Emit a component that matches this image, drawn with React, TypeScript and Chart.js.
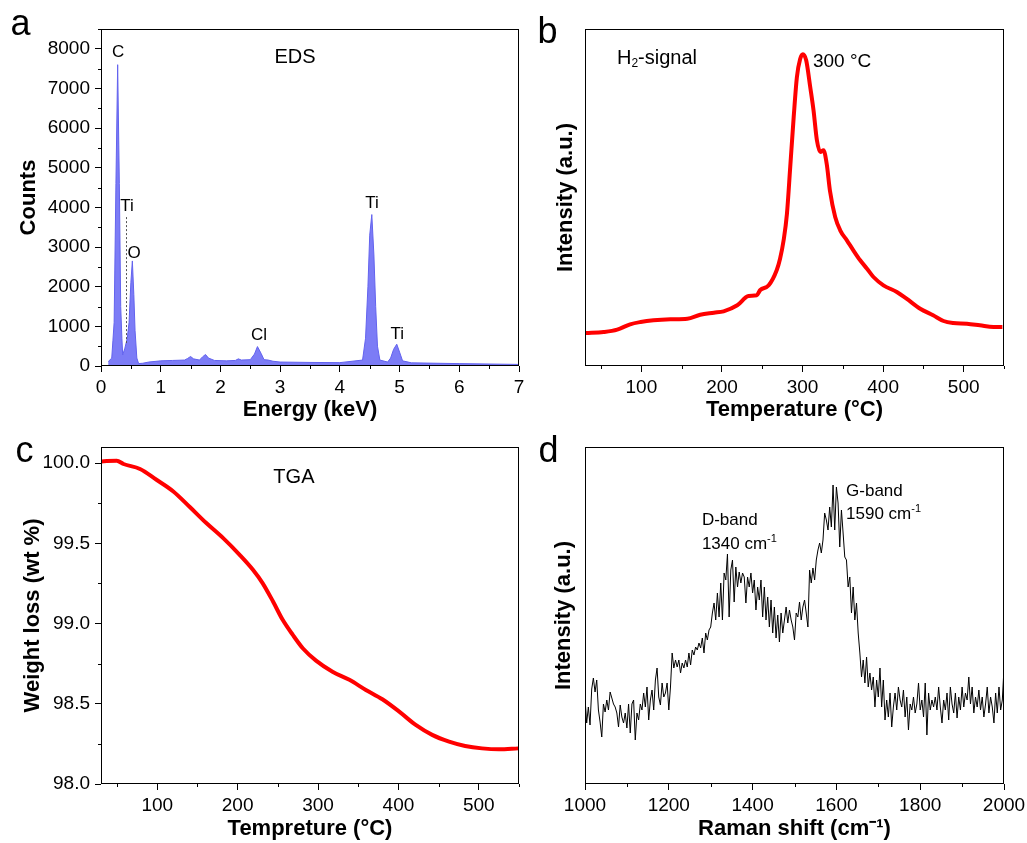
import React, { useEffect, useRef } from "react";
import { Chart, registerables } from "chart.js";

Chart.register(...registerables);

const FONT = "'Liberation Sans', Arial, Helvetica, sans-serif";

// ---------------- Panel a: EDS ----------------
const edsEnergy = [0.12, 0.18, 0.20, 0.22, 0.25, 0.279, 0.307, 0.33, 0.35, 0.363, 0.40, 0.44, 0.47, 0.50, 0.525, 0.55, 0.57, 0.60, 0.63, 0.70, 0.80, 1.00, 1.20, 1.40, 1.45, 1.50, 1.55, 1.65, 1.70, 1.75, 1.80, 1.90, 2.10, 2.25, 2.30, 2.35, 2.50, 2.57, 2.62, 2.68, 2.73, 2.80, 2.88, 3.00, 3.50, 4.00, 4.38, 4.43, 4.47, 4.50, 4.535, 4.57, 4.60, 4.63, 4.67, 4.80, 4.85, 4.90, 4.953, 5.00, 5.05, 5.20, 6.00, 7.00];
const edsCounts = [110, 200, 650, 1100, 4600, 7600, 4600, 1500, 700, 280, 450, 700, 1100, 2100, 2650, 1800, 900, 200, 60, 70, 100, 130, 140, 150, 190, 240, 180, 150, 230, 290, 200, 140, 130, 140, 180, 150, 160, 300, 490, 320, 160, 150, 120, 100, 90, 85, 150, 700, 2000, 3300, 3820, 2800, 1500, 500, 150, 100, 200, 420, 550, 350, 130, 80, 60, 40];
const edsEnergyTicks = [0, 1, 2, 3, 4, 5, 6, 7];
const edsCountTicks = [0, 1000, 2000, 3000, 4000, 5000, 6000, 7000, 8000];

// ---------------- Panel b: H2 signal ----------------
const h2Temp = [31, 53, 70, 86, 99, 115, 136, 157, 173, 190, 202, 219, 233, 243, 247.5, 258, 268, 272, 276.5, 280.6, 284.7, 289, 293, 297, 300.4, 304.5, 309.5, 313.6, 317.8, 322, 326, 330, 334, 340.5, 346.7, 355, 363, 371.5, 380, 388, 400.4, 417, 429, 446, 462, 475, 487, 504, 520, 537, 548];
const h2Signal = [33, 34, 36.3, 41.7, 44, 45.7, 46.7, 47.3, 51.3, 53.3, 54.7, 60.7, 70, 70.7, 76, 80.7, 96, 107, 125.7, 152, 199, 249, 289, 307, 311.7, 305.7, 279, 255.7, 225.7, 214, 215.7, 202, 175.3, 149, 135.7, 125.7, 115.7, 105.7, 97.3, 89, 80.7, 74, 67.3, 57.3, 50.7, 45, 43, 42.3, 40.7, 39, 39];
const tempTicks = [100, 200, 300, 400, 500];

// ---------------- Panel c: TGA ----------------
const tgaTemp = [31, 49.6, 58, 78.5, 99, 120, 140.5, 161, 182, 202.5, 219, 231, 244, 256, 268.6, 281, 297.5, 318, 339, 359.5, 380, 401, 421.5, 442, 463, 483, 504, 525, 549];
const tgaWeight = [100.01, 100.015, 99.994, 99.963, 99.896, 99.823, 99.726, 99.626, 99.532, 99.428, 99.335, 99.252, 99.137, 99.023, 98.929, 98.846, 98.769, 98.7, 98.649, 98.586, 98.528, 98.451, 98.368, 98.306, 98.264, 98.237, 98.222, 98.216, 98.222];
const weightTicks = [98.0, 98.5, 99.0, 99.5, 100.0];

// ---------------- Panel d: Raman ----------------
const ramanShift = [
  1000, 1004, 1008, 1012, 1016, 1020, 1024, 1028, 1032, 1036,
  1040, 1044, 1048, 1052, 1056, 1060, 1064, 1068, 1072, 1076,
  1080, 1084, 1088, 1092, 1096, 1100, 1104, 1108, 1112, 1116,
  1120, 1124, 1128, 1132, 1136, 1140, 1144, 1148, 1152, 1156,
  1160, 1164, 1168, 1172, 1176, 1180, 1184, 1188, 1192, 1196,
  1200, 1204, 1208, 1212, 1216, 1220, 1224, 1228, 1232, 1236,
  1240, 1244, 1248, 1252, 1256, 1260, 1264, 1268, 1272, 1276,
  1280, 1284, 1288, 1292, 1296, 1300, 1304, 1308, 1312, 1316,
  1320, 1324, 1328, 1332, 1336, 1340, 1344, 1348, 1352, 1356,
  1360, 1364, 1368, 1372, 1376, 1380, 1384, 1388, 1392, 1396,
  1400, 1404, 1408, 1412, 1416, 1420, 1424, 1428, 1432, 1436,
  1440, 1444, 1448, 1452, 1456, 1460, 1464, 1468, 1472, 1476,
  1480, 1484, 1488, 1492, 1496, 1500, 1504, 1508, 1512, 1516,
  1520, 1524, 1528, 1532, 1536, 1540, 1544, 1548, 1552, 1556,
  1560, 1564, 1568, 1572, 1576, 1580, 1584, 1588, 1592, 1596,
  1600, 1604, 1608, 1612, 1616, 1620, 1624, 1628, 1632, 1636,
  1640, 1644, 1648, 1652, 1656, 1660, 1664, 1668, 1672, 1676,
  1680, 1684, 1688, 1692, 1696, 1700, 1704, 1708, 1712, 1716,
  1720, 1724, 1728, 1732, 1736, 1740, 1744, 1748, 1752, 1756,
  1760, 1764, 1768, 1772, 1776, 1780, 1784, 1788, 1792, 1796,
  1800, 1804, 1808, 1812, 1816, 1820, 1824, 1828, 1832, 1836,
  1840, 1844, 1848, 1852, 1856, 1860, 1864, 1868, 1872, 1876,
  1880, 1884, 1888, 1892, 1896, 1900, 1904, 1908, 1912, 1916,
  1920, 1924, 1928, 1932, 1936, 1940, 1944, 1948, 1952, 1956,
  1960, 1964, 1968, 1972, 1976, 1980, 1984, 1988, 1992, 1996,
  2000,
];
const ramanIntensity = [
  86, 61, 77, 59, 95, 106, 92, 104, 74, 62,
  47, 80, 72, 84, 74, 92, 86, 80, 77, 71,
  57, 79, 67, 61, 71, 56, 80, 51, 80, 84,
  44, 71, 64, 80, 74, 91, 77, 97, 64, 84,
  94, 74, 104, 116, 87, 79, 101, 87, 91, 101,
  74, 97, 131, 116, 124, 117, 124, 111, 121, 116,
  124, 117, 131, 119, 134, 129, 137, 134, 141, 136,
  146, 131, 151, 144, 154, 157, 171, 181, 164, 191,
  167, 201, 164, 211, 204, 230, 167, 214, 224, 182,
  217, 197, 212, 201, 211, 207, 181, 207, 197, 211,
  191, 204, 174, 197, 184, 204, 167, 197, 164, 187,
  157, 184, 151, 177, 146, 169, 142, 171, 151, 164,
  177, 161, 174, 164, 157, 144, 171, 167, 182, 164,
  177, 184, 171, 157, 214, 201, 216, 204, 224, 234,
  241, 231, 244, 271, 264, 254, 277, 257, 299, 254,
  297, 281, 237, 274, 251, 227, 224, 197, 207, 171,
  197, 164, 181, 151, 131, 107, 124, 101, 127, 97,
  111, 94, 107, 77, 104, 87, 116, 77, 104, 64,
  84, 67, 91, 57, 77, 91, 74, 97, 84, 77,
  94, 67, 87, 54, 80, 74, 87, 71, 80, 101,
  74, 84, 67, 101, 49, 91, 74, 84, 77, 87,
  74, 97, 77, 61, 84, 74, 91, 64, 97, 80,
  71, 91, 66, 87, 74, 97, 77, 91, 84, 107,
  80, 97, 71, 87, 77, 94, 74, 87, 67, 80,
  97, 71, 87, 77, 61, 91, 71, 97, 74, 84,
  116,
];
const ramanTicks = [1000, 1200, 1400, 1600, 1800, 2000];

// ---------------- helpers ----------------
type Box = { left: number; top: number; w: number; h: number };
type Area = { left: number; top: number; right: number; bottom: number };

const pts = (xs: number[], ys: number[]) => xs.map((x, i) => ({ x, y: ys[i] }));

const decorPlugin = {
  id: "decor",
  afterDraw(chart: any, _args: any, opts: any) {
    const ctx = chart.ctx;
    const a = chart.chartArea;
    const sx = chart.scales.x;
    const sy = chart.scales.y;
    ctx.save();
    ctx.strokeStyle = "#000";
    ctx.lineWidth = 1;
    // minor ticks (between the major ticks)
    const minor = (scale: any, step: number, horiz: boolean) => {
      const majors: number[] = (scale.ticks || []).map((t: any) => t.value);
      const i0 = Math.ceil(scale.min / step - 1e-9);
      const i1 = Math.floor(scale.max / step + 1e-9);
      for (let i = i0; i <= i1; i++) {
        const v = i * step;
        if (majors.some((m) => Math.abs(m - v) < step * 1e-6)) continue;
        const p = Math.round(scale.getPixelForValue(v)) + 0.5;
        ctx.beginPath();
        if (horiz) {
          ctx.moveTo(p, a.bottom);
          ctx.lineTo(p, a.bottom + 3);
        } else {
          ctx.moveTo(a.left - 3, p);
          ctx.lineTo(a.left, p);
        }
        ctx.stroke();
      }
    };
    if (opts.minorX) minor(sx, opts.minorX, true);
    if (opts.minorY) minor(sy, opts.minorY, false);
    // frame
    ctx.strokeRect(a.left + 0.5, a.top + 0.5, a.right - a.left - 1, a.bottom - a.top - 1);
    // guide lines
    for (const ln of opts.lines || []) {
      ctx.save();
      ctx.setLineDash(ln.dash || []);
      ctx.strokeStyle = ln.color || "#000";
      ctx.lineWidth = ln.width || 1;
      ctx.beginPath();
      const x1 = Math.round(sx.getPixelForValue(ln.x1)) + 0.5;
      const x2 = Math.round(sx.getPixelForValue(ln.x2)) + 0.5;
      ctx.moveTo(x1, sy.getPixelForValue(ln.y1));
      ctx.lineTo(x2, sy.getPixelForValue(ln.y2));
      ctx.stroke();
      ctx.restore();
    }
    // text labels
    ctx.fillStyle = "#000";
    ctx.textBaseline = "middle";
    ctx.textAlign = "left";
    for (const L of opts.labels || []) {
      const px = sx.getPixelForValue(L.x);
      const py = sy.getPixelForValue(L.y);
      const small = Math.round(L.size * 0.62);
      const fontOf = (p: any) => `${p.sup || p.sub ? small : L.size}px ${FONT}`;
      let total = 0;
      const widths = L.parts.map((p: any) => {
        ctx.font = fontOf(p);
        const w = ctx.measureText(p.t).width;
        total += w;
        return w;
      });
      let x = L.align === "center" ? px - total / 2 : px;
      L.parts.forEach((p: any, i: number) => {
        ctx.font = fontOf(p);
        const dy = p.sup ? -L.size * 0.33 : p.sub ? L.size * 0.3 : 0;
        ctx.fillText(p.t, x, py + dy);
        x += widths[i];
      });
    }
    ctx.restore();
  },
};

const tickFont = { family: FONT, size: 19 };
const titleFont = { family: FONT, size: 22, weight: "bold" as const };
const setTicks = (list: number[]) => (s: any) => {
  s.ticks = list.map((value) => ({ value }));
};

function xAxis(o: { min: number; max: number; ticks: number[]; title: string; height: number; titlePad: number }) {
  return {
    type: "linear",
    min: o.min,
    max: o.max,
    afterBuildTicks: setTicks(o.ticks),
    ticks: {
      autoSkip: false,
      maxRotation: 0,
      minRotation: 0,
      padding: 4,
      color: "#000",
      font: tickFont,
      callback: (v: number) => String(v),
    },
    grid: { display: true, drawOnChartArea: false, drawTicks: true, tickLength: 6, tickColor: "#000", tickWidth: 1 },
    border: { display: false },
    title: { display: true, text: o.title, color: "#000", font: titleFont, padding: { top: 0, bottom: o.titlePad } },
    afterFit: (s: any) => {
      s.height = o.height;
      s.paddingLeft = 0;
      s.paddingRight = 0;
    },
  };
}

function yAxis(o: {
  min: number;
  max: number;
  ticks?: number[];
  title: string;
  width: number;
  titlePad: number;
  fmt?: (v: number) => string;
}) {
  const show = !!o.ticks;
  return {
    type: "linear",
    min: o.min,
    max: o.max,
    afterBuildTicks: show ? setTicks(o.ticks as number[]) : undefined,
    ticks: show
      ? {
          autoSkip: false,
          padding: 5,
          color: "#000",
          font: tickFont,
          callback: o.fmt || ((v: number) => String(v)),
        }
      : { display: false },
    grid: show
      ? { display: true, drawOnChartArea: false, drawTicks: true, tickLength: 6, tickColor: "#000", tickWidth: 1 }
      : { display: false },
    border: { display: false },
    title: { display: true, text: o.title, color: "#000", font: titleFont, padding: { top: o.titlePad, bottom: 0 } },
    afterFit: (s: any) => {
      s.width = o.width;
      s.paddingTop = 0;
      s.paddingBottom = 0;
    },
  };
}

function baseOptions(box: Box, area: Area, scales: any, decor: any) {
  return {
    responsive: false,
    maintainAspectRatio: false,
    animation: false,
    devicePixelRatio: 1,
    events: [],
    layout: {
      autoPadding: false,
      padding: { left: 0, bottom: 0, top: area.top - box.top, right: box.left + box.w - area.right },
    },
    plugins: { legend: { display: false }, tooltip: { enabled: false }, title: { display: false }, decor },
    scales,
  };
}

// ---------------- panel geometry ----------------
const boxA: Box = { left: 0, top: 0, w: 530, h: 432 };
const areaA: Area = { left: 101, top: 29, right: 519, bottom: 366 };
const boxB: Box = { left: 520, top: 0, w: 507, h: 432 };
const areaB: Area = { left: 585, top: 29, right: 1004, bottom: 366 };
const boxC: Box = { left: 0, top: 420, w: 530, h: 423 };
const areaC: Area = { left: 101, top: 447, right: 519, bottom: 784 };
const boxD: Box = { left: 520, top: 420, w: 507, h: 423 };
const areaD: Area = { left: 585, top: 447, right: 1004, bottom: 784 };

const xH = (b: Box, a: Area) => b.top + b.h - a.bottom;
const yW = (b: Box, a: Area) => a.left - b.left;

function configA() {
  return {
    type: "line",
    data: {
      datasets: [
        {
          data: pts(edsEnergy, edsCounts),
          borderColor: "rgb(98,98,238)",
          backgroundColor: "rgb(124,124,246)",
          borderWidth: 1,
          fill: "origin",
          pointRadius: 0,
          tension: 0,
        },
      ],
    },
    options: baseOptions(
      boxA,
      areaA,
      {
        x: xAxis({ min: 0, max: 7, ticks: edsEnergyTicks, title: "Energy (keV)", height: xH(boxA, areaA), titlePad: 8.8 }),
        y: yAxis({ min: 0, max: 8500, ticks: edsCountTicks, title: "Counts", width: yW(boxA, areaA), titlePad: 16 }),
      },
      {
        minorX: 0.5,
        minorY: 500,
        lines: [{ x1: 0.42, y1: 3756, x2: 0.42, y2: 528, dash: [2, 2], color: "#555" }],
        labels: [
          { x: 0.285, y: 7900, parts: [{ t: "C" }], size: 17, align: "center" },
          { x: 0.435, y: 4025, parts: [{ t: "Ti" }], size: 17, align: "center" },
          { x: 0.553, y: 2843, parts: [{ t: "O" }], size: 17, align: "center" },
          { x: 2.647, y: 780, parts: [{ t: "Cl" }], size: 17, align: "center" },
          { x: 4.54, y: 4100, parts: [{ t: "Ti" }], size: 17, align: "center" },
          { x: 4.96, y: 805, parts: [{ t: "Ti" }], size: 17, align: "center" },
          { x: 3.25, y: 7774, parts: [{ t: "EDS" }], size: 20, align: "center" },
        ],
      }
    ),
    plugins: [decorPlugin],
  };
}

function configB() {
  return {
    type: "line",
    data: {
      datasets: [
        {
          data: pts(h2Temp, h2Signal),
          borderColor: "#ff0000",
          borderWidth: 4,
          fill: false,
          pointRadius: 0,
          cubicInterpolationMode: "monotone",
        },
      ],
    },
    options: baseOptions(
      boxB,
      areaB,
      {
        x: xAxis({ min: 30, max: 550, ticks: tempTicks, title: "Temperature (°C)", height: xH(boxB, areaB), titlePad: 8.8 }),
        y: yAxis({ min: 0, max: 337, title: "Intensity (a.u.)", width: yW(boxB, areaB), titlePad: 32.5 }),
      },
      {
        minorX: 50,
        labels: [
          { x: 69.7, y: 308, parts: [{ t: "H" }, { t: "2", sub: true }, { t: "-signal" }], size: 20, align: "left" },
          { x: 312.9, y: 304, parts: [{ t: "300 °C" }], size: 19, align: "left" },
        ],
      }
    ),
    plugins: [decorPlugin],
  };
}

function configC() {
  return {
    type: "line",
    data: {
      datasets: [
        {
          data: pts(tgaTemp, tgaWeight),
          borderColor: "#ff0000",
          borderWidth: 4,
          fill: false,
          pointRadius: 0,
          cubicInterpolationMode: "monotone",
        },
      ],
    },
    options: baseOptions(
      boxC,
      areaC,
      {
        x: xAxis({ min: 30, max: 550, ticks: tempTicks, title: "Tempreture (°C)", height: xH(boxC, areaC), titlePad: 0.5 }),
        y: yAxis({
          min: 98.0,
          max: 100.1,
          ticks: weightTicks,
          title: "Weight loss (wt %)",
          width: yW(boxC, areaC),
          titlePad: 20,
          fmt: (v: number) => v.toFixed(1),
        }),
      },
      {
        minorX: 50,
        minorY: 0.25,
        labels: [{ x: 270, y: 99.908, parts: [{ t: "TGA" }], size: 20, align: "center" }],
      }
    ),
    plugins: [decorPlugin],
  };
}

function configD() {
  return {
    type: "line",
    data: {
      datasets: [
        {
          data: pts(ramanShift, ramanIntensity),
          borderColor: "#000",
          borderWidth: 1,
          fill: false,
          pointRadius: 0,
          tension: 0,
        },
      ],
    },
    options: baseOptions(
      boxD,
      areaD,
      {
        x: xAxis({ min: 1000, max: 2000, ticks: ramanTicks, title: "Raman shift (cm⁻¹)", height: xH(boxD, areaD), titlePad: 0.5 }),
        y: yAxis({ min: 0, max: 337, title: "Intensity (a.u.)", width: yW(boxD, areaD), titlePad: 30.3 }),
      },
      {
        minorX: 100,
        labels: [
          { x: 1279, y: 264, parts: [{ t: "D-band" }], size: 17, align: "left" },
          { x: 1279, y: 239.5, parts: [{ t: "1340 cm" }, { t: "-1", sup: true }], size: 17, align: "left" },
          { x: 1623, y: 292.5, parts: [{ t: "G-band" }], size: 17, align: "left" },
          { x: 1623, y: 269.5, parts: [{ t: "1590 cm" }, { t: "-1", sup: true }], size: 17, align: "left" },
        ],
      }
    ),
    plugins: [decorPlugin],
  };
}

function Panel({ box, build }: { box: Box; build: () => any }) {
  const ref = useRef<HTMLCanvasElement | null>(null);
  useEffect(() => {
    if (!ref.current) return;
    const chart = new Chart(ref.current, build());
    return () => chart.destroy();
  }, []);
  return (
    <canvas
      ref={ref}
      width={box.w}
      height={box.h}
      style={{ position: "absolute", left: box.left, top: box.top, width: box.w, height: box.h }}
    />
  );
}

const letterStyle = (left: number, top: number): React.CSSProperties => ({
  position: "absolute",
  left,
  top,
  fontFamily: FONT,
  fontSize: 36,
  lineHeight: "36px",
  color: "#000",
});

export default function App() {
  return (
    <div style={{ position: "absolute", left: 0, top: 0, width: 1027, height: 843, background: "#fff", overflow: "hidden" }}>
      <Panel box={boxA} build={configA} />
      <Panel box={boxB} build={configB} />
      <Panel box={boxC} build={configC} />
      <Panel box={boxD} build={configD} />
      <div style={letterStyle(10.5, 4.5)}>a</div>
      <div style={letterStyle(537.5, 12.5)}>b</div>
      <div style={letterStyle(15.5, 431.5)}>c</div>
      <div style={letterStyle(538.5, 431.5)}>d</div>
    </div>
  );
}
